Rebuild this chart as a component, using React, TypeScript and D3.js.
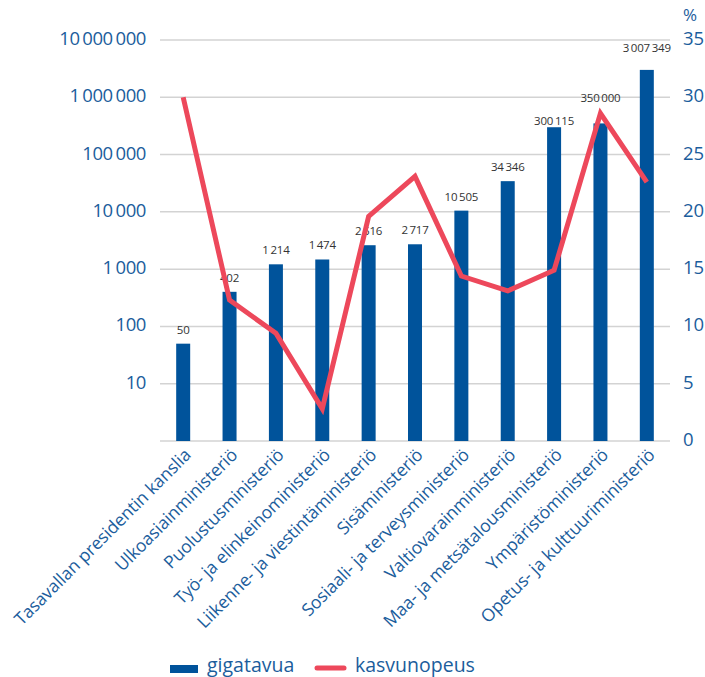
import React, { useEffect, useRef } from 'react';
import * as d3 from 'd3';

const ministries = [
  'Tasavallan presidentin kanslia',
  'Ulkoasiainministeriö',
  'Puolustusministeriö',
  'Työ- ja elinkeinoministeriö',
  'Liikenne- ja viestintäministeriö',
  'Sisäministeriö',
  'Sosiaali- ja terveysministeriö',
  'Valtiovarainministeriö',
  'Maa- ja metsätalousministeriö',
  'Ympäristöministeriö',
  'Opetus- ja kulttuuriministeriö',
];

const gigabytes = [50, 402, 1214, 1474, 2616, 2717, 10505, 34346, 300115, 350000, 3007349];
const growthRate = [30.0, 12.3, 9.4, 2.8, 19.6, 23.1, 14.4, 13.1, 14.9, 28.6, 22.6];

const leftTicks = [10, 100, 1000, 10000, 100000, 1000000, 10000000];
const rightTicks = [0, 5, 10, 15, 20, 25, 30, 35];

const BLUE = '#00539b';
const TEXT_BLUE = '#1b5d9c';
const RED = '#ed485b';
const FONT = '"Open Sans", sans-serif';

// thousands separated by a thin space, Finnish style
const fmt = (v: number) => d3.format(',')(v).replace(/,/g, '\u2009');

const App: React.FC = () => {
  const ref = useRef<SVGSVGElement>(null);

  useEffect(() => {
    if (!ref.current) return;
    const svg = d3.select(ref.current);
    svg.selectAll('*').remove();

    const left = 160;
    const right = 670;
    const top = 40;
    const bottom = 441;

    const x = d3.scalePoint<string>().domain(ministries).range([left, right]).padding(0.5);
    const yLog = d3.scaleLog().domain([1, 10000000]).range([bottom, top]);
    const yPct = d3.scaleLinear().domain([0, 35]).range([bottom, top]);
    const barW = 14;

    // gridlines
    svg
      .append('g')
      .selectAll('line')
      .data(rightTicks)
      .enter()
      .append('line')
      .attr('x1', left)
      .attr('x2', right)
      .attr('y1', (d) => yPct(d))
      .attr('y2', (d) => yPct(d))
      .attr('stroke', '#d3d3d3')
      .attr('stroke-width', 1.5);

    // left axis labels
    svg
      .append('g')
      .attr('font-family', FONT)
      .attr('font-size', 18.5)
      .attr('fill', TEXT_BLUE)
      .attr('text-anchor', 'end')
      .selectAll('text')
      .data(leftTicks)
      .enter()
      .append('text')
      .attr('x', 146)
      .attr('y', (d) => yLog(d) + 5)
      .attr('letter-spacing', -0.4)
      .text((d) => fmt(d));

    // right axis labels
    svg
      .append('g')
      .attr('font-family', FONT)
      .attr('font-size', 18.5)
      .attr('fill', TEXT_BLUE)
      .selectAll('text')
      .data(rightTicks)
      .enter()
      .append('text')
      .attr('x', 683)
      .attr('y', (d) => yPct(d) + 5)
      .text((d) => String(d));

    svg
      .append('text')
      .attr('x', 683)
      .attr('y', 21)
      .attr('font-family', FONT)
      .attr('font-size', 17)
      .attr('fill', TEXT_BLUE)
      .text('%');

    // bars
    svg
      .append('g')
      .selectAll('rect')
      .data(gigabytes)
      .enter()
      .append('rect')
      .attr('x', (d, i) => (x(ministries[i]) || 0) - barW / 2)
      .attr('y', (d) => yLog(d))
      .attr('width', barW)
      .attr('height', (d) => bottom - yLog(d))
      .attr('fill', BLUE);

    // value labels, a few lifted or lowered to dodge the line
    const labelNudge: Record<number, number> = { 8: -8, 9: 11, 10: 8 };
    svg
      .append('g')
      .attr('font-family', FONT)
      .attr('font-size', 11.5)
      .attr('fill', '#333')
      .attr('text-anchor', 'middle')
      .selectAll('text')
      .data(gigabytes)
      .enter()
      .append('text')
      .attr('x', (d, i) => x(ministries[i]) || 0)
      .attr('y', (d, i) => yLog(d) - 10 - (labelNudge[i] || 0))
      .attr('letter-spacing', -0.2)
      .text((d) => fmt(d));

    // growth line
    const line = d3
      .line<number>()
      .x((d, i) => x(ministries[i]) || 0)
      .y((d) => yPct(d));

    svg
      .append('path')
      .datum(growthRate)
      .attr('d', line)
      .attr('fill', 'none')
      .attr('stroke', RED)
      .attr('stroke-width', 5)
      .attr('stroke-linejoin', 'miter');

    // category labels
    svg
      .append('g')
      .attr('font-family', FONT)
      .attr('font-size', 17.5)
      .attr('fill', TEXT_BLUE)
      .attr('text-anchor', 'end')
      .selectAll('text')
      .data(ministries)
      .enter()
      .append('text')
      .attr('transform', (d) => `translate(${(x(d) || 0) + 9},${bottom + 15}) rotate(-45)`)
      .attr('letter-spacing', -0.1)
      .text((d) => d);

    // legend
    const legend = svg.append('g').attr('font-family', FONT).attr('font-size', 19.5).attr('fill', TEXT_BLUE);
    legend.append('rect').attr('x', 170).attr('y', 665).attr('width', 28).attr('height', 8).attr('fill', BLUE);
    legend.append('text').attr('x', 207).attr('y', 672).text('gigatavua');
    legend
      .append('line')
      .attr('x1', 317)
      .attr('x2', 344)
      .attr('y1', 668)
      .attr('y2', 668)
      .attr('stroke', RED)
      .attr('stroke-width', 5)
      .attr('stroke-linecap', 'round');
    legend.append('text').attr('x', 355).attr('y', 672).text('kasvunopeus');

    return () => {
      svg.selectAll('*').remove();
    };
  }, []);

  return (
    <svg
      ref={ref}
      width={705}
      height={677}
      style={{ position: 'absolute', left: 0, top: 0, display: 'block' }}
    ></svg>
  );
};

export default App;
